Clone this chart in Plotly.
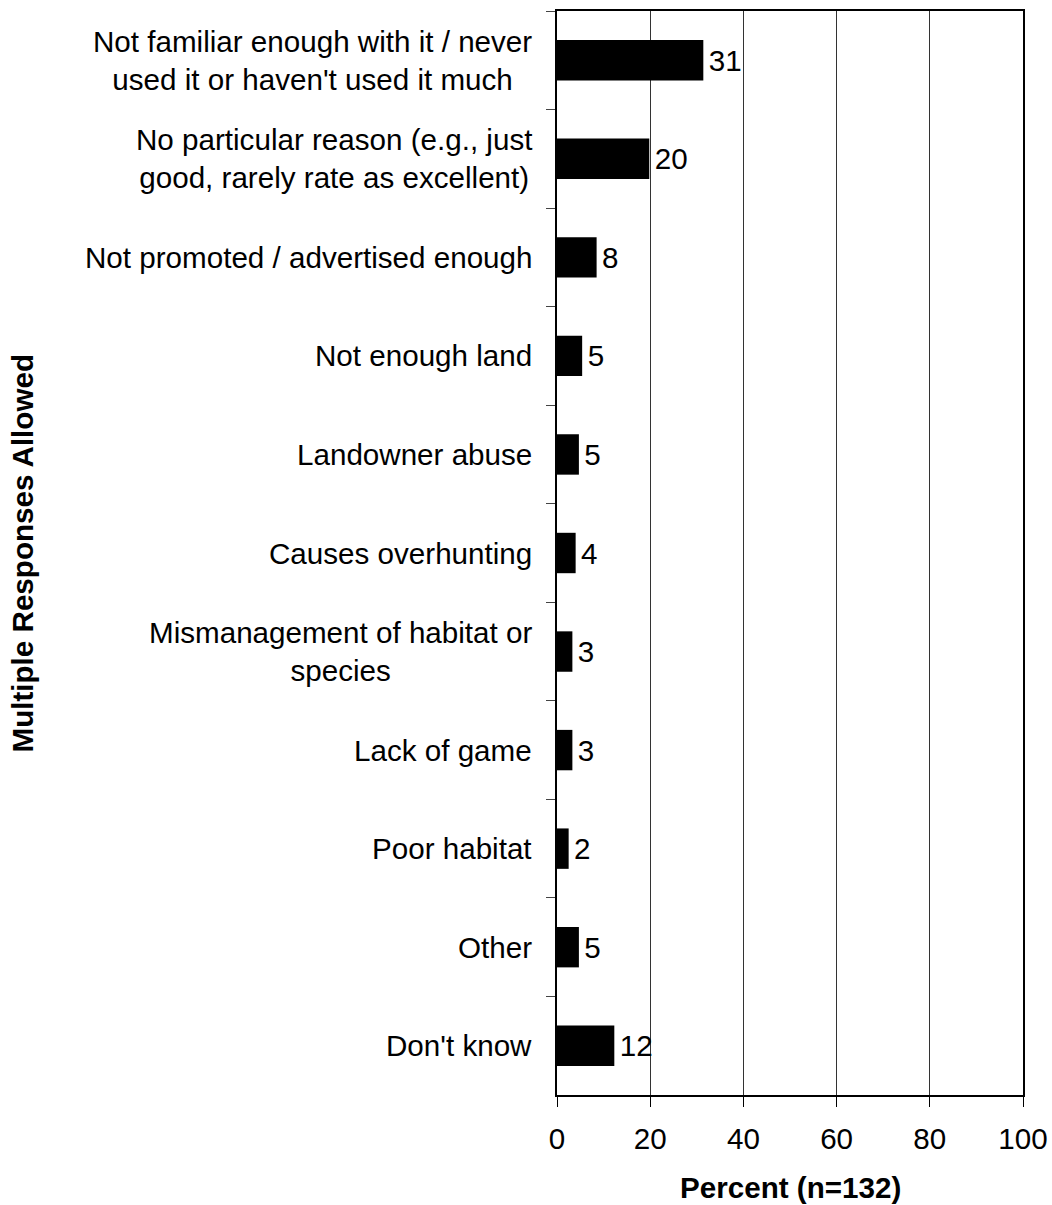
import plotly.graph_objects as go

categories = [
    "Not familiar enough with it / never<br>used it or haven't used it much",
    "No particular reason (e.g., just<br>good, rarely rate as excellent)",
    "Not promoted / advertised enough",
    "Not enough land",
    "Landowner abuse",
    "Causes overhunting",
    "Mismanagement of habitat or<br>species",
    "Lack of game",
    "Poor habitat",
    "Other",
    "Don't know",
]
values = [31.4, 19.8, 8.5, 5.4, 4.7, 4.0, 3.3, 3.3, 2.5, 4.7, 12.3]
value_labels = ["31", "20", "8", "5", "5", "4", "3", "3", "2", "5", "12"]
x_ticks = [0, 20, 40, 60, 80, 100]

FONT = "Liberation Sans, Arial, sans-serif"
FS = 29.6

fig = go.Figure()
fig.add_trace(go.Bar(
    x=values,
    y=categories,
    orientation="h",
    marker=dict(color="black", line=dict(width=0)),
    width=0.41,
    text=value_labels,
    texttemplate="\u200a%{text}",
    textposition="outside",
    textfont=dict(family=FONT, size=FS, color="black"),
    cliponaxis=False,
))

annotations = []
for c in categories:
    annotations.append(dict(
        x=0, xref="paper", y=c, yref="y",
        text=c, showarrow=False, xanchor="right", yanchor="middle",
        align="center", xshift=-23,
        font=dict(family=FONT, size=FS, color="black"),
    ))
annotations.append(dict(
    x=-1.147, xref="paper", y=0.5, yref="paper",
    text="<b>Multiple Responses Allowed</b>", showarrow=False,
    textangle=-90, xanchor="center", yanchor="middle",
    font=dict(family=FONT, size=FS, color="black"),
))
annotations.append(dict(
    x=0.5, xref="paper", y=-0.085, yref="paper",
    text="<b>Percent (n=132)</b>", showarrow=False,
    xanchor="center", yanchor="middle",
    font=dict(family=FONT, size=FS, color="black"),
))

fig.update_layout(
    width=1052, height=1205, autosize=False,
    margin=dict(l=557, r=29, t=11, b=110, autoexpand=False),
    paper_bgcolor="white", plot_bgcolor="white",
    showlegend=False,
    annotations=annotations,
    font=dict(family=FONT, size=FS, color="black"),
)
fig.update_xaxes(
    range=[0, 100], tickvals=x_ticks, ticks="outside", ticklen=10,
    tickwidth=1, tickcolor="black", ticklabelstandoff=6,
    showline=True, linecolor="black", linewidth=2, mirror=True,
    showgrid=True, gridcolor="#333333", gridwidth=1,
    zeroline=False, fixedrange=True, automargin=False,
    tickfont=dict(family=FONT, size=FS, color="black"),
)
fig.update_yaxes(
    type="category", categoryorder="array", categoryarray=categories,
    autorange="reversed", tickson="boundaries", ticks="outside", ticklen=9,
    tickwidth=1, tickcolor="#444444", showticklabels=False,
    showline=True, linecolor="black", linewidth=2, mirror=True,
    showgrid=False, zeroline=False, automargin=False,
)

fig.write_html(
    "out.html",
    config={"responsive": False, "displayModeBar": False},
    post_script="document.body.style.margin='0';document.body.style.overflow='hidden';",
)
